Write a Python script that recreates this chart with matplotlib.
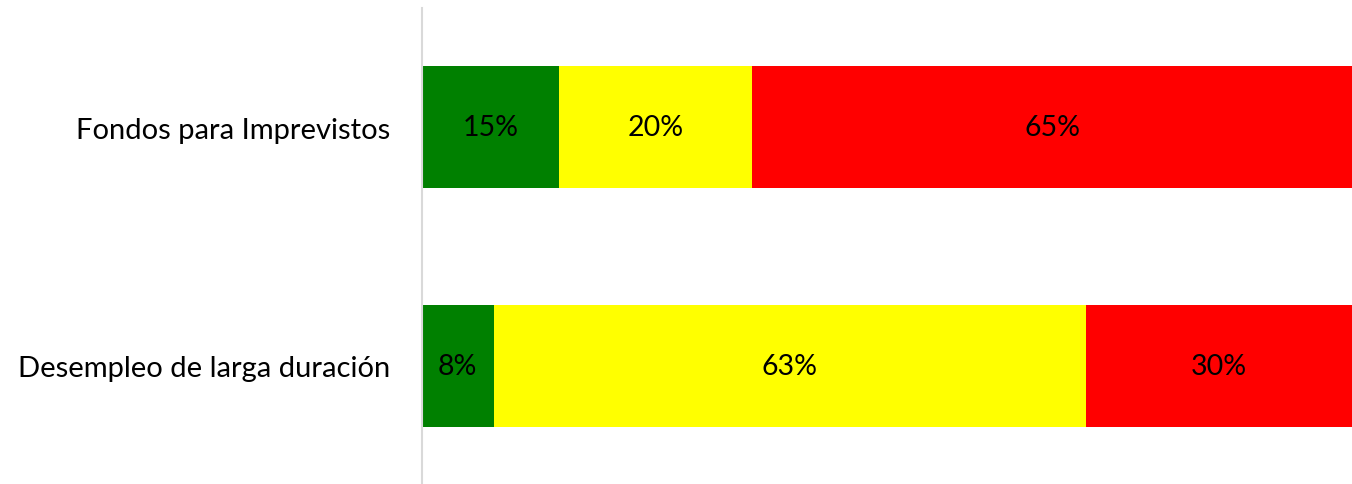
import matplotlib
matplotlib.use("Agg")
import matplotlib.pyplot as plt
import numpy as np

categories = ["Fondos para Imprevistos", "Desempleo de larga duración"]
green_vals = [14.7, 7.7]
yellow_vals = [20.8, 63.7]
red_vals = [64.5, 28.6]
green_labels = ["15%", "8%"]
yellow_labels = ["20%", "63%"]
red_labels = ["65%", "30%"]

plt.rcParams['font.family'] = ['Lato', 'DejaVu Sans']

fig = plt.figure(figsize=(13.52, 4.85), dpi=100)
ax = fig.add_axes([422/1352, -1/485, 1 - 422/1352, 1 - 8/485])

y = np.arange(len(categories))
series = [(green_vals, green_labels, "#008000"),
          (yellow_vals, yellow_labels, "#FFFF00"),
          (red_vals, red_labels, "#FF0000")]
left = np.zeros(len(categories))
for vals, labs, col in series:
    vals = np.array(vals, dtype=float)
    bars = ax.barh(y, vals, left=left, height=0.51, color=col, edgecolor='none')
    ax.bar_label(bars, labels=labs, label_type='center', fontsize=20.5, color='black')
    left = left + vals

ax.set_xlim(0, left.max())
ax.set_ylim(1.5, -0.5)
ax.set_yticks(y)
ax.set_yticklabels(categories, fontsize=21)
ax.tick_params(axis='y', length=0, pad=23)
ax.set_xticks([])
for s in ['top', 'right', 'bottom']:
    ax.spines[s].set_visible(False)
ax.spines['left'].set_color('#d9d9d9')
ax.spines['left'].set_linewidth(1.5)

fig.savefig("out.png", dpi=100)
